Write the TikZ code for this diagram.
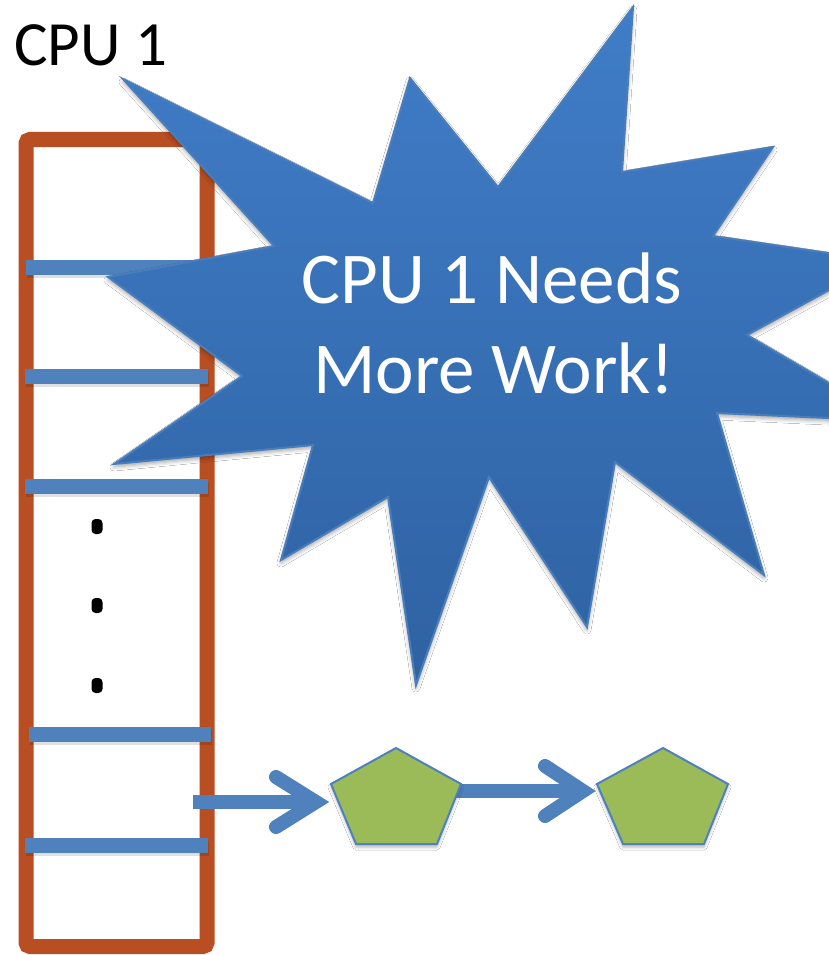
\documentclass[tikz,border=0pt]{standalone}
\usepackage{fontspec}
\setmainfont{Carlito}
\usetikzlibrary{shadows.blur,calc}
\definecolor{cpuorange}{HTML}{B84E21}
\definecolor{barblue}{HTML}{4F81BD}
\definecolor{startop}{HTML}{407DC8}
\definecolor{starbot}{HTML}{2E62A2}
\definecolor{starline}{HTML}{4A7EBB}
\definecolor{pentgreen}{HTML}{9BBB59}
\begin{document}
\begin{tikzpicture}[x=1pt,y=-1pt,
  cpubox/.style={draw=cpuorange, line width=15, rounded corners=4},
  slotbar/.style={draw=barblue, line width=15, line cap=butt},
  slotshadow/.style={draw=black, opacity=0.12, line width=15, line cap=butt},
  shaft/.style={draw=barblue, line width=14, line cap=butt},
  barbs/.style={draw=barblue, line width=14, line cap=round, line join=miter},
  pent/.style={fill=pentgreen, draw=barblue, line width=2, line join=miter,
    blur shadow={shadow xshift=0pt, shadow yshift=-3pt, shadow opacity=30, shadow blur radius=3pt}},
  burst/.style={top color=startop, bottom color=starbot, draw=starline, line width=2,
    blur shadow={shadow xshift=0pt, shadow yshift=-3pt, shadow opacity=35, shadow blur radius=4pt}},
  dotmark/.style={fill=black},
  label/.style={inner sep=0pt, font=\fontsize{63}{75}\selectfont, text=black},
  burstlabel/.style={inner sep=0pt, font=\fontsize{73}{90}\selectfont, text=white}
]
\useasboundingbox (0,0) rectangle (829,955);
\clip (0,0) rectangle (829,955);
\fill[white] (0,0) rectangle (829,955);

% CPU column
\draw[cpubox] (26,139.5) rectangle (207,946.5);

% slot bars
\foreach \y/\xa/\xb in {267/26/214, 376/25/208, 486/25/208, 734/29/211, 845/25/208} {
  \draw[slotshadow] (\xa+1,\y+3) -- (\xb+1,\y+3);
  \draw[slotbar] (\xa,\y) -- (\xb,\y);
}

% dots
\fill[dotmark, rounded corners=4] (91.5,519) rectangle (102.5,534);
\fill[dotmark, rounded corners=4] (91.5,598) rectangle (102.5,613);
\fill[dotmark, rounded corners=4] (91.5,678) rectangle (102.5,693);

% coordinates
\coordinate (a1s) at (193,802);
\coordinate (a1t) at (316,802);
\coordinate (a2s) at (455,791);
\coordinate (a2t) at (583,791);

% arrows
\draw[shaft] (a1s) -- (a1t);
\draw[barbs] ($(a1t)+(-40,-25)$) -- (a1t) -- ($(a1t)+(-40,25)$);
\draw[shaft] (a2s) -- (a2t);
\draw[barbs] ($(a2t)+(-38,-25)$) -- (a2t) -- ($(a2t)+(-38,25)$);

% pentagons
\path[pent] (396,748) coordinate (p1t) -- (461,784) coordinate (p1r) -- (437,844) coordinate (p1br)
  -- (356,844) coordinate (p1bl) -- (331,784) coordinate (p1l) -- cycle;
\path[pent] (663,748) coordinate (p2t) -- (728,784) coordinate (p2r) -- (704,844) coordinate (p2br)
  -- (623,844) coordinate (p2bl) -- (597,784) coordinate (p2l) -- cycle;

% explosion
\path[burst] (123,79) -- (373,203) -- (410,78) -- (498,187) -- (633,7) -- (622,172)
  -- (773,147) -- (713,236) -- (882,261) -- (747,335) -- (894,421) -- (717,413)
  -- (764,575) -- (615,462) -- (587,627) -- (489,477) -- (416,685) -- (388,497)
  -- (281,560) -- (313,445) -- (114,464) -- (242,376) -- (108,277) -- (274,246) -- cycle;

% texts
\node[label, anchor=base west] (cpulabel) at (14,66) {CPU 1};
\node[burstlabel, anchor=base] (msgA) at (492,303) {CPU 1 Needs};
\node[burstlabel, anchor=base] (msgB) at (494,393) {More Work!};
\end{tikzpicture}
\end{document}
